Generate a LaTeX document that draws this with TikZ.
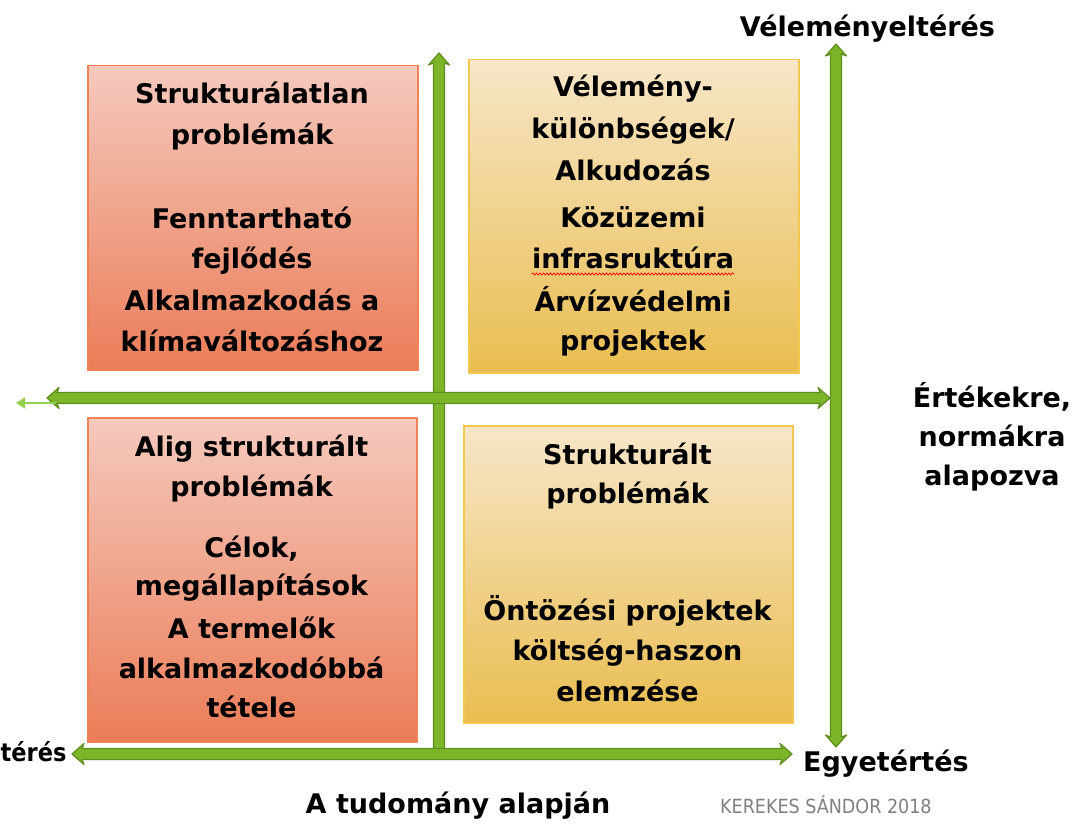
\documentclass[tikz,border=0pt]{standalone}
\usepackage{fontspec}
\setmainfont{DejaVu Sans}
\newfontfamily\condfont{DejaVu Sans Condensed}
\usetikzlibrary{arrows.meta, decorations.pathmorphing}
\definecolor{arrowfill}{RGB}{124,181,40}
\definecolor{arrowline}{RGB}{95,142,30}
\definecolor{thinarrow}{RGB}{146,208,80}
\definecolor{redtop}{RGB}{245,201,189}
\definecolor{redbot}{RGB}{235,125,88}
\definecolor{redline}{RGB}{240,130,85}
\definecolor{yeltop}{RGB}{247,230,200}
\definecolor{yelbot}{RGB}{233,189,80}
\definecolor{yelline}{RGB}{243,200,80}
\definecolor{signgray}{RGB}{128,128,128}
% horizontal double block arrow: x1, x2, y
\newcommand\axisH[3]{%
  \filldraw[axisstyle] (#1,#3) -- ({#1+12},{#3-10.5}) -- ({#1+10},{#3-5.5}) -- ({#2-10},{#3-5.5}) -- ({#2-12},{#3-10.5}) -- (#2,#3)
   -- ({#2-12},{#3+10.5}) -- ({#2-10},{#3+5.5}) -- ({#1+10},{#3+5.5}) -- ({#1+12},{#3+10.5}) -- cycle;}
% vertical double block arrow: y1 (top tip), y2 (bottom tip), x
\newcommand\axisV[3]{%
  \filldraw[axisstyle] (#3,#1) -- ({#3+10.5},{#1+12}) -- ({#3+5.5},{#1+10}) -- ({#3+5.5},{#2-10}) -- ({#3+10.5},{#2-12}) -- (#3,#2)
   -- ({#3-10.5},{#2-12}) -- ({#3-5.5},{#2-10}) -- ({#3-5.5},{#1+10}) -- ({#3-10.5},{#1+12}) -- cycle;}
% vertical single block arrow pointing up: y1 (tip), y2 (flat end), x
\newcommand\axisU[3]{%
  \filldraw[axisstyle] (#3,#1) -- ({#3+10.5},{#1+12}) -- ({#3+5.5},{#1+10}) -- ({#3+5.5},#2)
   -- ({#3-5.5},#2) -- ({#3-5.5},{#1+10}) -- ({#3-10.5},{#1+12}) -- cycle;}
\begin{document}
\begin{tikzpicture}[x=1pt,y=-1pt,
  axisstyle/.style={fill=arrowfill, draw=arrowline, line width=1.2pt, line join=round},
  redbox/.style={draw=redline, line width=1.5pt, top color=redtop, bottom color=redbot, anchor=north west, inner sep=0pt},
  yelbox/.style={draw=yelline, line width=1.5pt, top color=yeltop, bottom color=yelbot, anchor=north west, inner sep=0pt},
  boxtext/.style={anchor=base, inner sep=0pt, font=\fontsize{27}{32}\selectfont\bfseries},
  label/.style={inner sep=0pt, font=\fontsize{27}{32}\selectfont\bfseries},
  sign/.style={inner sep=0pt, anchor=base west, text=signgray, font=\condfont\fontsize{19.5}{23}\selectfont}]
\useasboundingbox (0,0) rectangle (1075,824);
\fill[white] (0,0) rectangle (1075,824);

% boxes
\node (tl) [redbox, minimum width=330pt, minimum height=304pt] at (87,65) {};
\node (tr) [yelbox, minimum width=330pt, minimum height=313pt] at (468,59) {};
\node (bl) [redbox, minimum width=329pt, minimum height=324pt] at (87,417) {};
\node (br) [yelbox, minimum width=329pt, minimum height=297pt] at (463,425) {};

% box texts
\foreach \y/\t [count=\i] in {104/Strukturálatlan, 144/problémák, 228/Fenntartható, 268/fejlődés, 310/{Alkalmazkodás a}, 351/klímaváltozáshoz}
  \node (tl\i) [boxtext] at (252,\y) {\t};
\foreach \y/\t [count=\i] in {97/{Vélemény-}, 139/{különbségek/}, 180/{Alkudozás}, 227/{Közüzemi}, 268/{infrasruktúra}, 311/{Árvízvédelmi}, 350/{projektek}}
  \node (tr\i) [boxtext] at (633,\y) {\t};
\foreach \y/\t [count=\i] in {456/{Alig strukturált}, 496/problémák, 557/{Célok,}, 595/megállapítások, 638/{A termelők}, 678/alkalmazkodóbbá, 717/tétele}
  \node (bl\i) [boxtext] at (251.5,\y) {\t};
\foreach \y/\t [count=\i] in {464/Strukturált, 503/problémák, 620/{Öntözési projektek}, 660/költség-haszon, 701/elemzése}
  \node (br\i) [boxtext] at (627.5,\y) {\t};

% spell-check squiggle
\draw[red, line width=0.7pt, decorate, decoration={snake, amplitude=1.1pt, segment length=3.5pt}]
  ([yshift=-6pt]tr5.base west) -- ([yshift=-6pt]tr5.base east);

% axes
\axisU{53}{754}{439}
\axisH{47}{830}{398}
\axisV{44}{747}{836}
\axisH{72}{792}{754}

% thin arrow
\coordinate (ta1) at (56,403);
\coordinate (ta2) at (16,403);
\draw[thinarrow, line width=1.5pt, -{Triangle[length=9pt, width=11pt]}] (ta1) -- (ta2);

% labels
\node (top) [label, anchor=base] at (867.5,37) {Véleményeltérés};
\node (egy) [label, anchor=base west] at (803,771) {Egyetértés};
\node (ter) [inner sep=0pt, anchor=base west, font=\condfont\bfseries\fontsize{25}{30}\selectfont] at (0.5,761) {térés};
\node (ert1) [label, anchor=base] at (992,407) {Értékekre,};
\node (ert2) [label, anchor=base] at (992,446) {normákra};
\node (ert3) [label, anchor=base] at (992,485) {alapozva};
\node (tud) [label, anchor=base] at (458,813) {A tudomány alapján};
\node (kerekes) [sign] at (720,813) {KEREKES SÁNDOR 2018};
\end{tikzpicture}
\end{document}
